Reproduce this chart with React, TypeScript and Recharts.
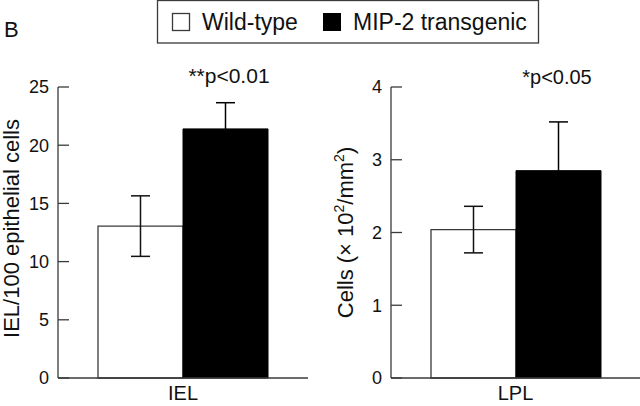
import React from "react";
import { BarChart, Bar, XAxis, YAxis, ErrorBar } from "recharts";

// values (mean and error)
const ielCategory = ["IEL"];
const ielWildType = [13.05];
const ielWildTypeErr = [2.6];
const ielTransgenic = [21.4];
const ielTransgenicErr = [2.25];

const lplCategory = ["LPL"];
const lplWildType = [2.04];
const lplWildTypeErr = [0.32];
const lplTransgenic = [2.85];
const lplTransgenicErr = [0.67];

const ielTicks = [0, 5, 10, 15, 20, 25];
const lplTicks = [0, 1, 2, 3, 4];
const seriesNames = ["Wild-type", "MIP-2 transgenic"];
const pLabels = ["**p<0.01", "*p<0.05"];

const FONT = '"Liberation Sans", Arial, Helvetica, sans-serif';
const AXIS = "#3a3a3a";
const INK = "#111";

const ielData = ielCategory.map((name, i) => ({
  name,
  wt: ielWildType[i],
  wtErr: ielWildTypeErr[i],
  tg: ielTransgenic[i],
  tgErr: ielTransgenicErr[i],
}));

const lplData = lplCategory.map((name, i) => ({
  name,
  wt: lplWildType[i],
  wtErr: lplWildTypeErr[i],
  tg: lplTransgenic[i],
  tgErr: lplTransgenicErr[i],
}));

// ticks point inward in the original, so draw the tick line ourselves
const makeYTick = (axisX: number) => (props: any) => {
  const { y, payload } = props;
  return (
    <g>
      <line x1={axisX} x2={axisX + 11} y1={y} y2={y} stroke={AXIS} strokeWidth={1.3} />
      <text
        x={axisX - 9}
        y={y}
        dy="0.36em"
        textAnchor="end"
        fontSize={18}
        fontFamily={FONT}
        fill={INK}
      >
        {payload.value}
      </text>
    </g>
  );
};

const XTick = (props: any) => {
  const { x, payload } = props;
  return (
    <text x={x} y={400} textAnchor="middle" fontSize={20} fontFamily={FONT} fill={INK}>
      {payload.value}
    </text>
  );
};

const IelLabel = (props: any) => {
  const { viewBox } = props;
  const cx = viewBox.x + 11;
  const cy = viewBox.y + viewBox.height / 2 - 4;
  return (
    <text
      x={cx}
      y={cy}
      dy="0.36em"
      transform={`rotate(-90, ${cx}, ${cy})`}
      textAnchor="middle"
      fontSize={22}
      fontFamily={FONT}
      fill={INK}
    >
      IEL/100 epithelial cells
    </text>
  );
};

const LplLabel = (props: any) => {
  const { viewBox } = props;
  const cx = viewBox.x + 25;
  const cy = viewBox.y + viewBox.height / 2;
  return (
    <text
      x={cx}
      y={cy}
      dy="0.36em"
      transform={`rotate(-90, ${cx}, ${cy})`}
      textAnchor="middle"
      fontSize={22}
      fontFamily={FONT}
      fill={INK}
    >
      Cells (× 10
      <tspan dy={-9} fontSize={14}>2</tspan>
      <tspan dy={9}>/mm</tspan>
      <tspan dy={-9} fontSize={14}>2</tspan>
      <tspan dy={9}>)</tspan>
    </text>
  );
};

const Panel = ({
  data,
  domain,
  ticks,
  axisWidth,
  rightMargin,
  label,
}: {
  data: any[];
  domain: [number, number];
  ticks: number[];
  axisWidth: number;
  rightMargin: number;
  label: any;
}) => (
  <BarChart
    width={320}
    height={406}
    data={data}
    margin={{ top: 87, right: rightMargin, left: 0, bottom: 0 }}
    barGap={0}
    barSize={85}
  >
    <XAxis
      dataKey="name"
      height={28}
      axisLine={{ stroke: AXIS, strokeWidth: 1.3 }}
      tickLine={false}
      tick={XTick}
    />
    <YAxis
      type="number"
      domain={domain}
      ticks={ticks}
      width={axisWidth}
      axisLine={{ stroke: AXIS, strokeWidth: 1.3 }}
      tickLine={false}
      tickSize={0}
      tick={makeYTick(axisWidth)}
      label={label}
    />
    <Bar dataKey="wt" name={seriesNames[0]} fill="#fff" stroke={AXIS} strokeWidth={1.3} isAnimationActive={false}>
      <ErrorBar dataKey="wtErr" width={9.5} stroke={INK} strokeWidth={1.5} direction="y" />
    </Bar>
    <Bar dataKey="tg" name={seriesNames[1]} fill="#000" stroke="#000" strokeWidth={1} isAnimationActive={false}>
      <ErrorBar dataKey="tgErr" width={9.5} stroke="#000" strokeWidth={1.5} direction="y" />
    </Bar>
  </BarChart>
);

export default function App() {
  return (
    <div style={{ position: "absolute", left: 0, top: 0, width: 640, height: 406, background: "#fff", fontFamily: FONT }}>
      <div style={{ position: "absolute", left: 0, top: 0 }}>
        <Panel data={ielData} domain={[0, 25]} ticks={ielTicks} axisWidth={58} rightMargin={12} label={IelLabel} />
      </div>
      <div style={{ position: "absolute", left: 320, top: 0 }}>
        <Panel data={lplData} domain={[0, 4]} ticks={lplTicks} axisWidth={71} rightMargin={0} label={LplLabel} />
      </div>
      <svg
        width={640}
        height={406}
        style={{ position: "absolute", left: 0, top: 0, pointerEvents: "none" }}
        fontFamily={FONT}
      >
        <text x={4} y={37} fontSize={22} fill={INK}>B</text>
        <rect x={157.5} y={0.5} width={381} height={42.5} fill="none" stroke={AXIS} strokeWidth={1.3} />
        <rect x={172.5} y={13.5} width={17} height={17} fill="#fff" stroke={AXIS} strokeWidth={1.3} />
        <text x={202} y={30} fontSize={23} fill={INK}>{seriesNames[0]}</text>
        <rect x={323} y={13} width={18} height={18} fill="#000" />
        <text x={353} y={30} fontSize={23} fill={INK}>{seriesNames[1]}</text>
        <text x={229} y={83} textAnchor="middle" fontSize={21} fill={INK}>{pLabels[0]}</text>
        <text x={557} y={84} textAnchor="middle" fontSize={20} fill={INK}>{pLabels[1]}</text>
      </svg>
    </div>
  );
}
